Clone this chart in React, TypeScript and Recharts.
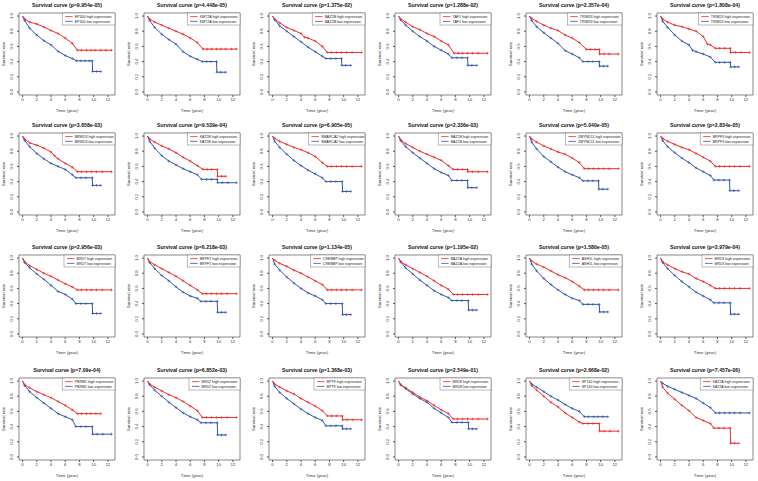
import { LineChart, Line, XAxis, YAxis, ReferenceArea } from 'recharts';

type Pt = [number, number];

// gene order, left-to-right, top-to-bottom
const genes = [
  'EP300', 'KMT2A', 'BAZ2B', 'TAF1', 'TRIM33', 'TRIM24',
  'BRWD3', 'KAT2B', 'SMARCA2', 'BAZ1B', 'ZMYND11', 'BRPF3',
  'BRD7', 'BRPF1', 'CREBBP', 'BAZ2A', 'ASH1L', 'BRD3',
  'PBRM1', 'BRD2', 'BPTF', 'BRD8', 'SP140', 'KAT2A',
];

const pValues = [
  '9.954e-05', '4.448e-05', '1.375e-02', '1.288e-02', '2.357e-04', '1.808e-04',
  '3.658e-03', '9.539e-04', '6.905e-05', '2.336e-03', '5.040e-05', '2.834e-05',
  '2.956e-03', '6.218e-03', '1.134e-05', '1.195e-02', '1.580e-05', '2.979e-04',
  '7.09e-04', '6.852e-03', '1.368e-03', '2.549e-01', '2.668e-02', '7.457e-06',
];

// [time (year), survival rate]
const EP300_high: Pt[] = [[0, 1], [0.3, 0.96], [1, 0.92], [2, 0.895], [3, 0.855], [4, 0.81], [5, 0.77], [6, 0.71], [7, 0.64], [7.7, 0.55], [8.3, 0.55], [9, 0.55], [9.6, 0.55], [10.2, 0.55], [11, 0.55], [11.7, 0.55], [12.5, 0.55]];
const EP300_low: Pt[] = [[0, 1], [0.3, 0.94], [1, 0.84], [2, 0.75], [3, 0.675], [4, 0.62], [5, 0.535], [6, 0.48], [7, 0.44], [7.6, 0.41], [8.2, 0.41], [8.8, 0.41], [9.4, 0.41], [9.8, 0.41], [9.85, 0.27], [10.4, 0.27], [11, 0.27]];
const KMT2A_high: Pt[] = [[0, 1], [0.3, 0.96], [1, 0.92], [2, 0.88], [3, 0.84], [4, 0.8], [5, 0.76], [6, 0.71], [7, 0.65], [7.8, 0.565], [8.4, 0.565], [9, 0.565], [9.7, 0.565], [10.3, 0.565], [11, 0.565], [11.8, 0.565], [12.5, 0.565]];
const KMT2A_low: Pt[] = [[0, 1], [0.3, 0.94], [1, 0.85], [2, 0.76], [3, 0.69], [4, 0.63], [5, 0.53], [6, 0.47], [7, 0.43], [7.7, 0.4], [8.3, 0.4], [8.9, 0.4], [9.7, 0.4], [9.75, 0.26], [10.3, 0.26], [11, 0.26]];
const BAZ2B_high: Pt[] = [[0, 1], [0.3, 0.96], [1, 0.91], [2, 0.85], [3, 0.81], [4, 0.77], [4.5, 0.72], [5, 0.71], [6, 0.67], [7, 0.6], [7.7, 0.52], [8.3, 0.52], [9, 0.52], [9.7, 0.52], [10.4, 0.52], [11.2, 0.52], [12.5, 0.52]];
const BAZ2B_low: Pt[] = [[0, 1], [0.3, 0.95], [1, 0.87], [2, 0.8], [3, 0.73], [4, 0.66], [5, 0.59], [6, 0.53], [7, 0.47], [7.5, 0.44], [8.2, 0.44], [8.9, 0.44], [9.7, 0.44], [9.75, 0.35], [10.3, 0.35], [11, 0.35]];
const TAF1_high: Pt[] = [[0, 1], [0.3, 0.96], [1, 0.92], [2, 0.86], [3, 0.82], [4, 0.77], [5, 0.73], [6, 0.67], [7, 0.62], [7.8, 0.51], [8.4, 0.51], [9, 0.51], [9.7, 0.51], [10.4, 0.51], [11.2, 0.51], [12.5, 0.51]];
const TAF1_low: Pt[] = [[0, 1], [0.3, 0.95], [1, 0.88], [2, 0.8], [3, 0.73], [4, 0.67], [5, 0.6], [6, 0.55], [7, 0.5], [7.5, 0.45], [8.2, 0.45], [8.9, 0.45], [9.7, 0.45], [9.75, 0.35], [10.3, 0.35], [11, 0.35]];
const TRIM33_high: Pt[] = [[0, 1], [0.3, 0.97], [1, 0.93], [2, 0.88], [3, 0.84], [4, 0.81], [5, 0.75], [6, 0.71], [7, 0.65], [8, 0.56], [8.6, 0.56], [9.2, 0.56], [9.8, 0.56], [9.85, 0.5], [10.5, 0.5], [11.2, 0.5], [12.5, 0.5]];
const TRIM33_low: Pt[] = [[0, 1], [0.3, 0.94], [1, 0.86], [2, 0.78], [3, 0.71], [4, 0.64], [5, 0.545], [6, 0.5], [7, 0.45], [7.5, 0.4], [8.2, 0.4], [8.9, 0.4], [9.8, 0.4], [9.85, 0.34], [10.4, 0.34], [11, 0.34]];
const TRIM24_high: Pt[] = [[0, 1], [0.3, 0.96], [1, 0.92], [2, 0.88], [3, 0.86], [4, 0.83], [5, 0.8], [6, 0.73], [6.6, 0.63], [7, 0.62], [7.7, 0.575], [8.3, 0.575], [9, 0.575], [9.8, 0.575], [9.85, 0.52], [10.5, 0.52], [11.3, 0.52], [12.5, 0.52]];
const TRIM24_low: Pt[] = [[0, 1], [0.3, 0.93], [1, 0.85], [2, 0.75], [3, 0.67], [4, 0.62], [4.5, 0.55], [5, 0.53], [6, 0.5], [7, 0.46], [7.7, 0.39], [8.3, 0.39], [9, 0.39], [9.8, 0.39], [9.85, 0.33], [10.4, 0.33], [11, 0.33]];

const BRWD3_high: Pt[] = [[0, 1], [0.3, 0.96], [1, 0.91], [2, 0.88], [3, 0.84], [4, 0.79], [4.5, 0.74], [5, 0.7], [6, 0.64], [7, 0.59], [7.7, 0.53], [8.3, 0.53], [9, 0.53], [9.7, 0.53], [10.4, 0.53], [11.2, 0.53], [12.5, 0.53]];
const BRWD3_low: Pt[] = [[0, 1], [0.3, 0.94], [1, 0.86], [2, 0.77], [3, 0.7], [4, 0.64], [5, 0.6], [6, 0.56], [7, 0.49], [7.5, 0.45], [8.2, 0.45], [8.9, 0.45], [9.8, 0.45], [9.85, 0.35], [10.4, 0.35], [11, 0.35]];
const KAT2B_high: Pt[] = [[0, 1], [0.3, 0.96], [1, 0.92], [2, 0.87], [3, 0.83], [4, 0.78], [5, 0.72], [6, 0.67], [7, 0.61], [7.8, 0.56], [8.4, 0.56], [9, 0.56], [9.8, 0.56], [9.85, 0.47], [10.4, 0.47], [11, 0.47]];
const KAT2B_low: Pt[] = [[0, 1], [0.3, 0.93], [1, 0.84], [2, 0.74], [3, 0.67], [4, 0.62], [5, 0.57], [6, 0.53], [7, 0.49], [7.6, 0.43], [8.3, 0.43], [9, 0.43], [9.8, 0.43], [9.85, 0.385], [10.5, 0.385], [11.3, 0.385], [12.5, 0.385]];
const SMARCA2_high: Pt[] = [[0, 1], [0.3, 0.97], [1, 0.93], [2, 0.89], [3, 0.85], [4, 0.82], [5, 0.78], [6, 0.73], [7, 0.65], [7.7, 0.6], [8.3, 0.6], [9, 0.6], [9.7, 0.6], [10.4, 0.6], [11.2, 0.6], [12.5, 0.6]];
const SMARCA2_low: Pt[] = [[0, 1], [0.3, 0.93], [1, 0.85], [2, 0.76], [3, 0.68], [4, 0.61], [5, 0.55], [6, 0.5], [7, 0.45], [7.5, 0.4], [8.2, 0.4], [8.9, 0.4], [9.8, 0.4], [9.85, 0.27], [10.4, 0.27], [11, 0.27]];
const BAZ1B_high: Pt[] = [[0, 1], [0.3, 0.95], [1, 0.9], [2, 0.85], [3, 0.8], [4, 0.76], [5, 0.72], [6, 0.68], [7, 0.61], [7.7, 0.56], [8.3, 0.56], [9, 0.56], [9.7, 0.56], [9.75, 0.53], [10.4, 0.53], [11.2, 0.53], [12.5, 0.53]];
const BAZ1B_low: Pt[] = [[0, 1], [0.3, 0.94], [1, 0.86], [2, 0.78], [3, 0.71], [4, 0.64], [5, 0.57], [6, 0.52], [7, 0.48], [7.5, 0.415], [8.2, 0.415], [8.9, 0.415], [9.7, 0.415], [9.75, 0.32], [10.3, 0.32], [11, 0.32]];
const ZMYND11_high: Pt[] = [[0, 1], [0.3, 0.96], [1, 0.92], [2, 0.87], [3, 0.83], [4, 0.79], [5, 0.76], [6, 0.71], [7, 0.65], [7.7, 0.57], [8.3, 0.57], [9, 0.57], [9.7, 0.57], [10.4, 0.57], [11.2, 0.57], [12.5, 0.57]];
const ZMYND11_low: Pt[] = [[0, 1], [0.3, 0.92], [1, 0.83], [2, 0.73], [3, 0.66], [4, 0.59], [5, 0.53], [6, 0.49], [7, 0.45], [7.5, 0.41], [8.2, 0.41], [8.9, 0.41], [9.7, 0.41], [9.75, 0.3], [10.3, 0.3], [11, 0.3]];
const BRPF3_high: Pt[] = [[0, 1], [0.3, 0.97], [1, 0.93], [2, 0.89], [3, 0.85], [4, 0.82], [5, 0.77], [6, 0.72], [7, 0.67], [7.7, 0.6], [8.3, 0.6], [9, 0.6], [9.7, 0.6], [10.4, 0.6], [11.2, 0.6], [12.5, 0.6]];
const BRPF3_low: Pt[] = [[0, 1], [0.3, 0.94], [1, 0.86], [2, 0.78], [3, 0.71], [4, 0.65], [5, 0.58], [6, 0.53], [7, 0.48], [7.5, 0.42], [8.2, 0.42], [8.9, 0.42], [9.7, 0.42], [9.75, 0.28], [10.3, 0.28], [11, 0.28]];

const BRD7_high: Pt[] = [[0, 1], [0.3, 0.95], [1, 0.9], [2, 0.85], [3, 0.8], [4, 0.76], [5, 0.71], [6, 0.66], [7, 0.62], [7.7, 0.58], [8.3, 0.58], [9, 0.58], [9.7, 0.58], [10.4, 0.58], [11.2, 0.58], [12.5, 0.58]];
const BRD7_low: Pt[] = [[0, 1], [0.3, 0.94], [1, 0.87], [2, 0.79], [3, 0.72], [4, 0.64], [5, 0.56], [6, 0.52], [7, 0.46], [7.5, 0.4], [8.2, 0.4], [8.9, 0.4], [9.8, 0.4], [9.85, 0.27], [10.4, 0.27], [11, 0.27]];
const BRPF1_high: Pt[] = [[0, 1], [0.3, 0.95], [1, 0.91], [2, 0.86], [3, 0.81], [4, 0.76], [5, 0.7], [6, 0.64], [7, 0.58], [7.7, 0.53], [8.3, 0.53], [9, 0.53], [9.7, 0.53], [10.4, 0.53], [11.2, 0.53], [12.5, 0.53]];
const BRPF1_low: Pt[] = [[0, 1], [0.3, 0.94], [1, 0.86], [2, 0.77], [3, 0.7], [4, 0.62], [5, 0.55], [6, 0.5], [7, 0.47], [7.5, 0.43], [8.2, 0.43], [8.9, 0.43], [9.8, 0.43], [9.85, 0.285], [10.4, 0.285], [11, 0.285]];
const CREBBP_high: Pt[] = [[0, 1], [0.3, 0.97], [1, 0.93], [2, 0.89], [3, 0.84], [4, 0.8], [5, 0.75], [6, 0.7], [7, 0.65], [7.7, 0.58], [8.3, 0.58], [9, 0.58], [9.7, 0.58], [10.4, 0.58], [11.2, 0.58], [12.5, 0.58]];
const CREBBP_low: Pt[] = [[0, 1], [0.3, 0.92], [1, 0.84], [2, 0.75], [3, 0.67], [4, 0.6], [5, 0.54], [6, 0.5], [7, 0.45], [7.5, 0.4], [8.2, 0.4], [8.9, 0.4], [9.8, 0.4], [9.85, 0.255], [10.4, 0.255], [11, 0.255]];
const BAZ2A_high: Pt[] = [[0, 1], [0.3, 0.95], [1, 0.91], [2, 0.86], [3, 0.81], [4, 0.76], [5, 0.7], [6, 0.64], [7, 0.59], [7.7, 0.52], [8.3, 0.52], [9, 0.52], [9.7, 0.52], [10.4, 0.52], [11.2, 0.52], [12.5, 0.52]];
const BAZ2A_low: Pt[] = [[0, 1], [0.3, 0.95], [1, 0.87], [2, 0.79], [3, 0.71], [4, 0.64], [5, 0.57], [6, 0.52], [7, 0.48], [7.5, 0.44], [8.2, 0.44], [8.9, 0.44], [9.8, 0.44], [9.85, 0.315], [10.4, 0.315], [11, 0.315]];
const ASH1L_high: Pt[] = [[0, 1], [0.3, 0.96], [1, 0.92], [2, 0.88], [3, 0.83], [4, 0.78], [5, 0.74], [6, 0.69], [7, 0.63], [7.7, 0.58], [8.3, 0.58], [9, 0.58], [9.7, 0.58], [10.4, 0.58], [11.2, 0.58], [12.5, 0.58]];
const ASH1L_low: Pt[] = [[0, 1], [0.3, 0.92], [1, 0.83], [2, 0.73], [3, 0.65], [4, 0.58], [5, 0.52], [6, 0.47], [7, 0.44], [7.5, 0.39], [8.2, 0.39], [8.9, 0.39], [9.8, 0.39], [9.85, 0.29], [10.4, 0.29], [11, 0.29]];
const BRD3_high: Pt[] = [[0, 1], [0.3, 0.95], [1, 0.91], [2, 0.86], [3, 0.82], [4, 0.79], [5, 0.73], [6, 0.69], [7, 0.64], [7.7, 0.6], [8.3, 0.6], [9, 0.6], [9.7, 0.6], [10.4, 0.6], [11.2, 0.6], [12.5, 0.6]];
const BRD3_low: Pt[] = [[0, 1], [0.3, 0.94], [1, 0.86], [2, 0.77], [3, 0.69], [4, 0.62], [5, 0.55], [6, 0.5], [7, 0.45], [7.5, 0.41], [8.2, 0.41], [8.9, 0.41], [9.8, 0.41], [9.85, 0.26], [10.4, 0.26], [11, 0.26]];

const PBRM1_high: Pt[] = [[0, 1], [0.3, 0.95], [1, 0.91], [2, 0.86], [3, 0.82], [4, 0.78], [5, 0.73], [6, 0.68], [7, 0.62], [7.7, 0.57], [8.3, 0.57], [9, 0.57], [9.6, 0.57], [10.3, 0.57], [11, 0.57]];
const PBRM1_low: Pt[] = [[0, 1], [0.3, 0.94], [1, 0.86], [2, 0.78], [3, 0.71], [4, 0.64], [5, 0.57], [6, 0.53], [7, 0.49], [7.5, 0.4], [8.2, 0.4], [8.9, 0.4], [9.8, 0.4], [9.85, 0.3], [10.5, 0.3], [11.3, 0.3], [12.5, 0.3]];
const BRD2_high: Pt[] = [[0, 1], [0.3, 0.96], [1, 0.92], [2, 0.87], [3, 0.82], [4, 0.78], [5, 0.73], [6, 0.67], [7, 0.61], [7.7, 0.52], [8.3, 0.52], [9, 0.52], [9.7, 0.52], [10.4, 0.52], [11.2, 0.52], [12.5, 0.52]];
const BRD2_low: Pt[] = [[0, 1], [0.3, 0.95], [1, 0.88], [2, 0.8], [3, 0.72], [4, 0.65], [5, 0.58], [6, 0.53], [7, 0.49], [7.5, 0.45], [8.2, 0.45], [8.9, 0.45], [9.8, 0.45], [9.85, 0.29], [10.4, 0.29], [11, 0.29]];
const BPTF_high: Pt[] = [[0, 1], [0.3, 0.96], [1, 0.92], [2, 0.87], [3, 0.83], [4, 0.77], [5, 0.72], [6, 0.67], [7, 0.61], [7.7, 0.54], [8.3, 0.54], [9, 0.54], [9.8, 0.54], [9.85, 0.49], [10.5, 0.49], [11.3, 0.49], [12.5, 0.49]];
const BPTF_low: Pt[] = [[0, 1], [0.3, 0.93], [1, 0.85], [2, 0.77], [3, 0.7], [4, 0.63], [5, 0.57], [6, 0.52], [7, 0.48], [7.5, 0.41], [8.2, 0.41], [8.9, 0.41], [9.8, 0.41], [9.85, 0.37], [10.4, 0.37], [11, 0.37]];
const BRD8_high: Pt[] = [[0, 1], [0.3, 0.95], [1, 0.91], [2, 0.85], [3, 0.79], [4, 0.74], [5, 0.68], [6, 0.62], [7, 0.57], [7.7, 0.5], [8.3, 0.5], [9, 0.5], [9.7, 0.5], [10.4, 0.5], [11.2, 0.5], [12.5, 0.5]];
const BRD8_low: Pt[] = [[0, 1], [0.3, 0.95], [1, 0.9], [2, 0.83], [3, 0.77], [4, 0.72], [5, 0.64], [6, 0.58], [7, 0.52], [7.5, 0.455], [8.2, 0.455], [8.9, 0.455], [9.8, 0.455], [9.85, 0.37], [10.4, 0.37], [11, 0.37]];
const SP140_high: Pt[] = [[0, 1], [0.3, 0.94], [1, 0.88], [2, 0.8], [3, 0.72], [4, 0.66], [5, 0.58], [6, 0.52], [7, 0.46], [7.5, 0.44], [8.2, 0.44], [8.9, 0.44], [9.8, 0.44], [9.85, 0.34], [10.5, 0.34], [11.3, 0.34], [12.5, 0.34]];
const SP140_low: Pt[] = [[0, 1], [0.3, 0.96], [1, 0.92], [2, 0.86], [3, 0.8], [4, 0.75], [5, 0.69], [6, 0.64], [7, 0.6], [7.7, 0.53], [8.3, 0.53], [9, 0.53], [9.6, 0.53], [10.3, 0.53], [11, 0.53]];
const KAT2A_high: Pt[] = [[0, 1], [0.3, 0.92], [1, 0.84], [2, 0.76], [3, 0.68], [4, 0.61], [5, 0.52], [6, 0.48], [7, 0.44], [7.5, 0.38], [8.2, 0.38], [8.9, 0.38], [9.8, 0.38], [9.85, 0.18], [10.4, 0.18], [11, 0.18]];
const KAT2A_low: Pt[] = [[0, 1], [0.3, 0.97], [1, 0.93], [2, 0.89], [3, 0.85], [4, 0.81], [5, 0.77], [6, 0.71], [7, 0.65], [7.7, 0.58], [8.3, 0.58], [9, 0.58], [9.7, 0.58], [10.4, 0.58], [11.2, 0.58], [12.5, 0.58]];

const highCurves = [
  EP300_high, KMT2A_high, BAZ2B_high, TAF1_high, TRIM33_high, TRIM24_high,
  BRWD3_high, KAT2B_high, SMARCA2_high, BAZ1B_high, ZMYND11_high, BRPF3_high,
  BRD7_high, BRPF1_high, CREBBP_high, BAZ2A_high, ASH1L_high, BRD3_high,
  PBRM1_high, BRD2_high, BPTF_high, BRD8_high, SP140_high, KAT2A_high,
];
const lowCurves = [
  EP300_low, KMT2A_low, BAZ2B_low, TAF1_low, TRIM33_low, TRIM24_low,
  BRWD3_low, KAT2B_low, SMARCA2_low, BAZ1B_low, ZMYND11_low, BRPF3_low,
  BRD7_low, BRPF1_low, CREBBP_low, BAZ2A_low, ASH1L_low, BRD3_low,
  PBRM1_low, BRD2_low, BPTF_low, BRD8_low, SP140_low, KAT2A_low,
];

const xTicks = [0, 2, 4, 6, 8, 10, 12];
const yTicks = [0, 0.2, 0.4, 0.6, 0.8, 1];

const RED = '#ee2a2a';
const BLUE = '#2f55ad';
const FONT = '"Liberation Sans", Arial, sans-serif';

// panel grid
const colX = [0, 125, 250, 376, 507, 638];
const rowY = [0, 120, 242, 365];
const PW = 124;
const PH = 121;
const BOX = { left: 19, top: 13, right: 115, bottom: 95 };

const Cross = (props: any) => {
  const { cx, cy, stroke, index } = props;
  if (index === 0 || cx == null || cy == null) return <g key={`c-${index}`} />;
  return (
    <path
      key={`c-${index}`}
      d={`M${cx - 1.4},${cy}h2.8M${cx},${cy - 1.4}v2.8`}
      stroke={stroke}
      strokeWidth={0.6}
    />
  );
};

const YTick = ({ x, y, payload }: any) => (
  <text
    x={x - 2.5}
    y={y}
    transform={`rotate(-90 ${x - 2.5} ${y})`}
    textAnchor="middle"
    fontSize={4.3}
    fill="#333"
  >
    {Number(payload.value).toFixed(1)}
  </text>
);

function Panel({ i }: { i: number }) {
  const gene = genes[i];
  const high = highCurves[i].map(([t, s]) => ({ t, s }));
  const low = lowCurves[i].map(([t, s]) => ({ t, s }));
  const hiLabel = `${gene} high expression`;
  const loLabel = `${gene} low expression`;
  const legW = 14 + hiLabel.length * 1.85;
  const legX = BOX.right - legW;
  const cx = (BOX.left + BOX.right) / 2;
  const cy = (BOX.top + BOX.bottom) / 2;

  return (
    <div
      style={{
        position: 'absolute',
        left: colX[i % 6],
        top: rowY[Math.floor(i / 6)],
        width: PW,
        height: PH,
      }}
    >
      <LineChart
        width={PW}
        height={PH}
        margin={{ top: BOX.top, right: PW - BOX.right, bottom: 0, left: 0 }}
      >
        <XAxis
          type="number"
          dataKey="t"
          domain={[-0.5, 13]}
          ticks={xTicks}
          interval={0}
          allowDataOverflow
          height={PH - BOX.bottom}
          axisLine={false}
          tickSize={2}
          tickMargin={1}
          tick={{ fontSize: 4.3, fill: '#333' }}
          stroke="#555"
        />
        <YAxis
          type="number"
          domain={[-0.04, 1.04]}
          ticks={yTicks}
          interval={0}
          allowDataOverflow
          width={BOX.left}
          axisLine={false}
          tickSize={2}
          tickMargin={1}
          tick={<YTick />}
          stroke="#555"
        />
        <ReferenceArea
          x1={-0.5}
          x2={13}
          y1={-0.04}
          y2={1.04}
          fill="none"
          stroke="#555"
          strokeWidth={0.7}
        />
        <Line
          data={low}
          dataKey="s"
          type="linear"
          stroke={BLUE}
          strokeWidth={1}
          dot={Cross}
          activeDot={false}
          isAnimationActive={false}
        />
        <Line
          data={high}
          dataKey="s"
          type="linear"
          stroke={RED}
          strokeWidth={1}
          dot={Cross}
          activeDot={false}
          isAnimationActive={false}
        />
      </LineChart>
      <svg
        width={PW}
        height={PH}
        style={{ position: 'absolute', left: 0, top: 0, pointerEvents: 'none' }}
        fontFamily={FONT}
      >
        <text x={cx} y={6.5} textAnchor="middle" fontSize={5.2} fontWeight="bold" fill="#111">
          {`Survival curve (p=${pValues[i]})`}
        </text>
        <text x={cx} y={111.5} textAnchor="middle" fontSize={4.4} fill="#333">
          Time (year)
        </text>
        <text
          x={4.6}
          y={cy}
          transform={`rotate(-90 4.6 ${cy})`}
          textAnchor="middle"
          fontSize={4.4}
          fill="#333"
        >
          Survival rate
        </text>
        <rect x={legX} y={BOX.top} width={legW} height={12} fill="#fff" stroke="#555" strokeWidth={0.4} />
        <line x1={legX + 3} x2={legX + 10.5} y1={BOX.top + 3.6} y2={BOX.top + 3.6} stroke={RED} strokeWidth={0.8} />
        <line x1={legX + 3} x2={legX + 10.5} y1={BOX.top + 8.4} y2={BOX.top + 8.4} stroke={BLUE} strokeWidth={0.8} />
        <text x={legX + 12.5} y={BOX.top + 4.9} fontSize={3.6} fill="#222">{hiLabel}</text>
        <text x={legX + 12.5} y={BOX.top + 9.7} fontSize={3.6} fill="#222">{loLabel}</text>
      </svg>
    </div>
  );
}

export default function App() {
  return (
    <div
      style={{
        position: 'relative',
        width: 758,
        height: 481,
        background: '#fff',
        fontFamily: FONT,
        overflow: 'hidden',
      }}
    >
      <style>{'body{margin:0}'}</style>
      {genes.map((g, i) => (
        <Panel key={g} i={i} />
      ))}
    </div>
  );
}
